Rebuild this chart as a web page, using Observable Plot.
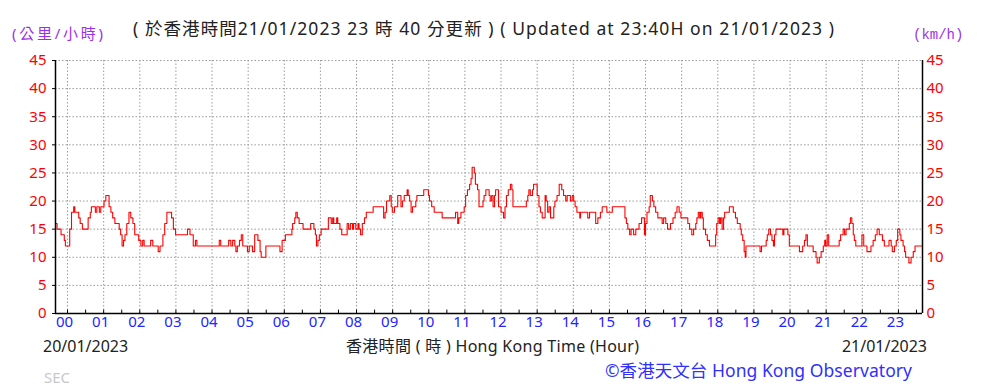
<!DOCTYPE html>
<html><head><meta charset="utf-8">
<script src="https://cdn.jsdelivr.net/npm/d3@7"></script>
<script src="https://cdn.jsdelivr.net/npm/@observablehq/plot@0.6"></script>
<style>
body{margin:0;background:#fff}
svg{font-family:"Noto Sans","Noto Sans CJK TC",sans-serif}
</style>
</head><body><div id="chart"></div>
<script>
// time in hours relative to 00:00 (window 23:40 -> 23:40)
const hours = [
-0.333,-0.29,-0.18,-0.09,-0.06,0.06,0.11,0.17,0.20,0.31,0.35,0.41,0.57,0.63,0.66,0.77,0.81,0.88,0.92,
1.01,1.06,1.15,1.20,1.25,1.31,1.43,1.47,1.51,1.55,1.59,1.64,1.70,1.75,1.81,1.86,1.97,
2.03,2.08,2.12,2.30,2.36,2.51,2.56,2.64,2.69,2.75,2.88,2.93,2.99,
3.32,3.39,3.48,3.54,3.58,4.20,4.24,4.46,4.52,4.57,4.63,4.66,4.70,4.76,4.81,4.85,4.98,
5.03,5.12,5.18,5.27,5.33,5.36,5.49,5.88,5.94,
6.03,6.21,6.23,6.29,6.32,6.36,6.41,6.52,6.73,6.82,6.86,6.89,6.93,6.97,
7.02,7.22,7.30,7.34,7.37,7.45,7.48,7.54,7.59,7.74,7.78,7.83,7.89,7.92,7.98,
8.04,8.07,8.11,8.16,8.22,8.27,8.46,8.75,8.79,8.83,8.92,8.96,8.99,
9.05,9.14,9.23,9.27,9.32,9.40,9.43,9.47,9.51,9.55,9.64,9.67,9.86,9.99,
10.02,10.08,10.15,10.37,10.74,10.80,10.83,10.89,10.98,
11.02,11.07,11.13,11.17,11.20,11.26,11.29,11.35,11.39,11.50,11.53,11.58,11.67,11.70,11.74,11.78,11.82,11.85,11.93,
12.00,12.07,12.11,12.15,12.20,12.26,12.30,12.33,12.70,12.74,12.77,12.81,12.87,12.90,
13.00,13.05,13.09,13.14,13.22,13.25,13.29,13.33,13.37,13.46,13.49,13.55,13.61,13.68,13.73,13.79,13.83,13.92,13.97,
14.01,14.05,14.10,14.18,14.20,14.40,14.45,14.62,14.68,14.75,14.80,14.93,
15.08,15.43,15.47,15.51,15.56,15.60,15.67,15.73,15.82,15.89,15.97,
16.00,16.04,16.10,16.13,16.19,16.23,16.28,16.34,16.46,16.50,16.56,16.61,16.69,16.76,16.82,16.87,16.93,16.98,
17.17,17.22,17.28,17.33,17.39,17.42,17.46,17.50,17.53,17.57,17.60,17.66,17.71,17.77,17.94,17.97,
18.01,18.05,18.08,18.12,18.16,18.19,18.32,18.43,18.49,18.54,18.62,18.65,18.69,18.73,18.76,18.78,
19.17,19.21,19.34,19.37,19.41,19.46,19.50,19.54,19.57,19.61,19.80,19.83,19.94,19.98,
20.26,20.35,20.40,20.44,20.48,20.64,20.72,20.75,20.81,20.86,20.92,20.96,20.99,
21.03,21.07,21.36,21.40,21.47,21.51,21.55,21.64,21.67,21.71,21.75,21.78,21.82,21.99,
22.04,22.13,22.24,22.30,22.36,22.41,22.47,22.56,22.61,22.74,22.80,22.83,22.89,22.94,22.98,
23.04,23.07,23.13,23.17,23.20,23.29,23.35,23.41,23.46,23.667
];
// 10-minute mean wind speed (km/h)
const speeds = [
16,15,14,13,12,15,18,19,18,17,16,15,17,18,19,18,19,18,19,
20,21,19,18,17,16,15,14,12,13,14,16,18,17,16,14,13,
12,13,12,13,12,11,12,14,16,18,17,15,14,
15,14,12,13,12,13,12,13,12,13,12,11,12,13,14,12,11,
12,11,14,13,11,10,12,11,13,
14,15,16,17,18,17,16,15,16,15,14,12,13,14,
15,17,16,17,16,17,16,15,14,16,15,16,15,16,15,
16,15,14,16,17,18,19,17,18,20,21,19,18,
19,21,19,20,21,22,21,20,18,19,20,21,22,21,
20,19,18,17,18,16,17,18,19,
21,22,23,24,26,25,23,22,19,20,21,22,21,20,21,19,21,22,19,
18,17,19,21,22,23,22,19,20,21,22,21,22,23,
21,19,18,17,21,20,18,19,17,19,20,21,23,22,21,20,21,20,21,
20,19,18,17,18,17,18,16,17,18,19,18,
19,17,16,15,14,15,14,15,16,17,14,
16,18,19,21,20,19,18,17,16,17,16,15,16,17,18,19,18,17,
16,15,14,15,16,17,18,17,18,17,15,14,13,12,14,16,
17,16,17,15,17,18,19,18,17,16,15,14,13,11,10,12,
11,12,13,14,15,14,13,12,14,15,14,15,14,12,
11,12,13,14,12,11,10,9,10,11,12,13,12,
14,12,13,14,15,14,15,16,17,16,14,13,12,14,
12,11,12,13,14,15,14,13,12,13,12,11,12,13,15,
14,13,12,11,10,9,10,11,12,12
];
const hourTicks = [0,1,2,3,4,5,6,7,8,9,10,11,12,13,14,15,16,17,18,19,20,21,22,23];
const hourLabels = ["00","01","02","03","04","05","06","07","08","09","10","11","12","13","14","15","16","17","18","19","20","21","22","23"];
const speedTicks = [0,5,10,15,20,25,30,35,40,45];
const windowStart = -1/3, windowEnd = 23 + 2/3;

const titleText = "( 於香港時間21/01/2023 23 時 40 分更新 ) ( Updated at 23:40H on 21/01/2023 )";
const unitLeft = "(公里/小時)";
const unitRight = "(km/h)";
const dateLeft = "20/01/2023";
const dateRight = "21/01/2023";
const xTitle = "香港時間 ( 時 ) Hong Kong Time (Hour)";
const stationCode = "SEC";
const credit = "©香港天文台 Hong Kong Observatory";

const data = hours.map((h, i) => ({h, v: speeds[i]}));
const halfHours = d3.range(0, 24, 0.5);
const grid = {stroke: "#9a9a9a", strokeOpacity: 1, strokeDasharray: "1.5,2"};

const chart = Plot.plot({
  width: 983, height: 388,
  marginTop: 60, marginBottom: 75, marginLeft: 55, marginRight: 61,
  style: {background: "#fff", fontFamily: '"Noto Sans","Noto Sans CJK TC",sans-serif'},
  x: {domain: [windowStart, windowEnd]},
  y: {domain: [0, 45]},
  marks: [
    Plot.gridX(hourTicks, grid),
    Plot.gridY(speedTicks.filter(d => d > 0), grid),
    Plot.ruleX(halfHours, {y1: 0, y2: 0.6, stroke: "#000"}),
    Plot.line(data, {x: "h", y: "v", stroke: "#ff0000", strokeWidth: 1.1, curve: "step-after"}),
    Plot.ruleY([0], {stroke: "#000", strokeWidth: 1.5}),
    Plot.ruleX([windowStart, windowEnd], {stroke: "#000", strokeWidth: 1.5}),
    Plot.axisX(hourTicks, {label: null, tickSize: 0, tickPadding: 3, dx: -3, fontSize: 15,
      tickFormat: d => hourLabels[d], color: "#2424ff"}),
    Plot.axisY(speedTicks, {anchor: "left", label: null, tickSize: 0, tickPadding: 9, fontSize: 15, color: "#ff0000"}),
    Plot.axisY(speedTicks, {anchor: "left", label: null, tickSize: 3, tickFormat: () => "", color: "#000"}),
    Plot.axisY(speedTicks, {anchor: "right", label: null, tickSize: 0, tickPadding: 4, fontSize: 15, color: "#ff0000"})
  ]
});
document.getElementById("chart").appendChild(chart);

const svg = d3.select(chart);
const texts = [
  {t: unitLeft, x: 12, y: 39, fill: "#9b30e8", size: 15, anchor: "start", len: 91},
  {t: titleText, x: 133, y: 35, fill: "#222", size: 17.5, anchor: "start", len: 701},
  {t: unitRight, x: 913, y: 39, fill: "#9b30e8", size: 14, anchor: "start", family: '"Liberation Mono",monospace'},
  {t: dateLeft, x: 43, y: 352, fill: "#222", size: 16, anchor: "start"},
  {t: xTitle, x: 346, y: 352, fill: "#222", size: 16, anchor: "start", len: 293},
  {t: dateRight, x: 927, y: 352, fill: "#222", size: 16, anchor: "end"},
  {t: stationCode, x: 44, y: 383, fill: "#c8c8c8", size: 15, anchor: "start"},
  {t: credit, x: 605, y: 377, fill: "#3030ff", size: 17.5, anchor: "start", len: 307}
];
for (const d of texts) {
  const el = svg.append("text")
    .attr("x", d.x).attr("y", d.y)
    .attr("fill", d.fill)
    .attr("font-size", d.size)
    .attr("text-anchor", d.anchor)
    .attr("font-family", d.family || '"Noto Sans","Noto Sans CJK TC",sans-serif')
    .text(d.t);
  if (d.len) el.attr("textLength", d.len).attr("lengthAdjust", "spacing");
}
</script>
</body></html>
